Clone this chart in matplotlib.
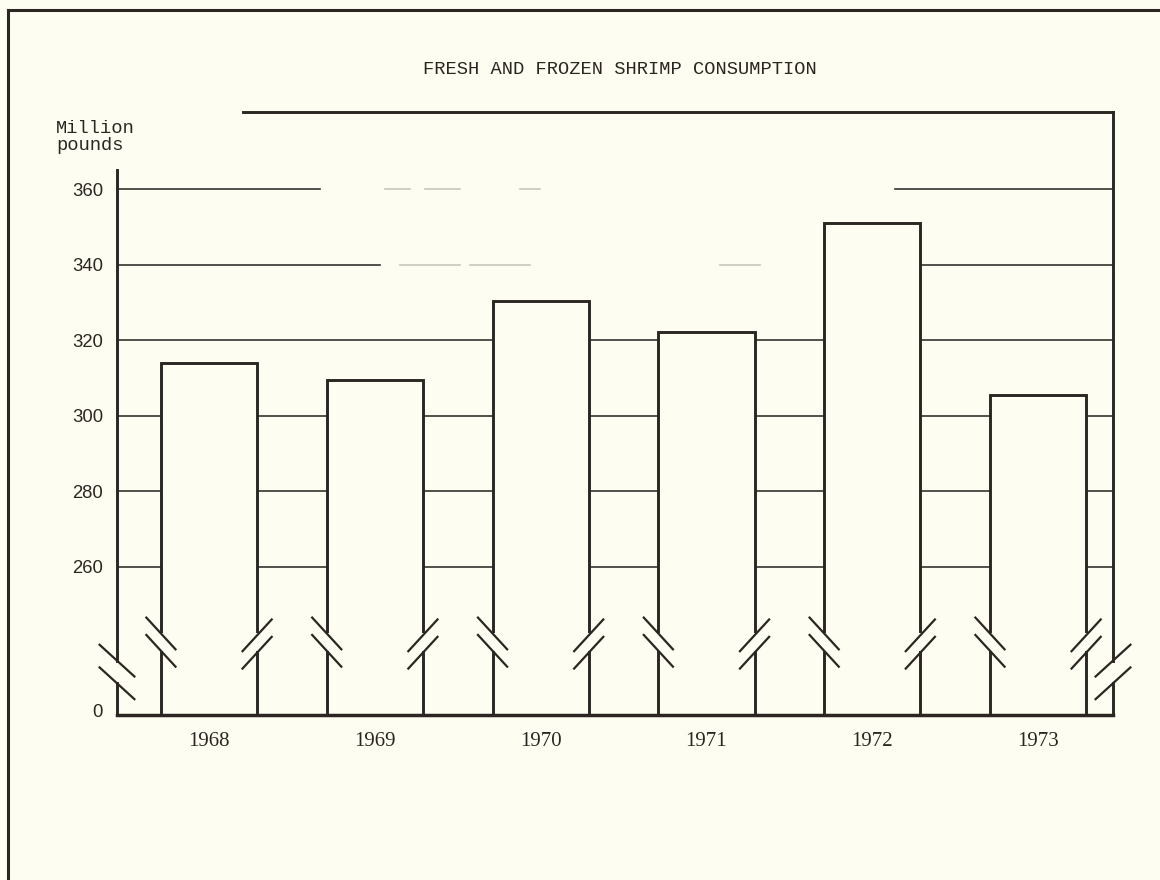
import matplotlib
matplotlib.use("Agg")
import matplotlib.pyplot as plt
from matplotlib.lines import Line2D
import numpy as np

# Fresh and frozen shrimp consumption, million pounds
years = ["1968", "1969", "1970", "1971", "1972", "1973"]
consumption = [314.0, 309.5, 330.5, 322.3, 351.1, 305.6]

grid_levels = [260, 280, 300, 320, 340, 360]
ytick_vals = [222.1, 260, 280, 300, 320, 340, 360]
ytick_labels = ["0", "260", "280", "300", "320", "340", "360"]

bg = "#fdfdf1"
ink = "#2b2622"
grid_col = "#36322e"
faint_col = "#c9c8bd"

y_lo, y_hi = 220.8, 380.5
x_lo, x_hi = -0.555, 5.452
bar_w = 0.58

fig = plt.figure(figsize=(11.6, 8.8), dpi=100, facecolor=bg)
ax = fig.add_axes([117 / 1160, 1 - 715 / 880, (1113 - 117) / 1160, (715 - 112) / 880])
ax.set_facecolor(bg)
ax.set_xlim(x_lo, x_hi)
ax.set_ylim(y_lo, y_hi)
for s in ax.spines.values():
    s.set_visible(False)

# gridlines (scan has dropped parts of the top two)
def frac(px):
    return (px - 117) / 996

partial = {
    360: [((117, 320), grid_col), ((385, 410), faint_col), ((425, 460), faint_col),
          ((520, 540), faint_col), ((895, 1113), grid_col)],
    340: [((117, 380), grid_col), ((400, 460), faint_col), ((470, 530), faint_col),
          ((720, 760), faint_col), ((920, 1113), grid_col)],
}
for v in grid_levels:
    if v in partial:
        for (a, b), c in partial[v]:
            ax.axhline(v, xmin=frac(a), xmax=frac(b), color=c, lw=1.2, zorder=1)
    else:
        ax.axhline(v, color=grid_col, lw=1.2, zorder=1)

# bars
x = np.arange(len(years))
vals = np.array(consumption)
ax.bar(x, vals - y_lo, bottom=y_lo, width=bar_w, facecolor=bg,
       edgecolor=ink, linewidth=2.1, zorder=3)

# break in the bars
brk_c, brk_off = 240.1, 2.3
ax.bar(x, 2 * brk_off, bottom=brk_c - brk_off, width=bar_w + 0.03,
       color=bg, linewidth=0, zorder=4)
dx, dy = 0.088, 4.2
for xi in x:
    xl, xr = xi - bar_w / 2, xi + bar_w / 2
    for s in (-1, 1):
        yc = brk_c + s * brk_off
        ax.plot([xl - dx, xl + dx], [yc + dy, yc - dy], color=ink, lw=1.6, zorder=5)
        ax.plot([xr - dx, xr + dx], [yc - dy - 0.5, yc + dy - 0.5], color=ink, lw=1.6, zorder=5)

# axes frame with breaks
ax_c, ax_off = 232.2, 3.0
adx, ady = 0.105, 4.2
ax.plot([x_lo, x_lo], [y_lo, ax_c - ax_off], color=ink, lw=2.1, clip_on=False, zorder=6)
ax.plot([x_lo, x_lo], [ax_c + ax_off, 365.2], color=ink, lw=2.1, clip_on=False, zorder=6)
ax.plot([x_hi, x_hi], [y_lo, ax_c - ax_off], color=ink, lw=2.1, clip_on=False, zorder=6)
ax.plot([x_hi, x_hi], [ax_c + ax_off, y_hi], color=ink, lw=2.1, clip_on=False, zorder=6)
ax.plot([0.205, x_hi], [y_hi, y_hi], color=ink, lw=2.1, clip_on=False, zorder=6)
ax.plot([x_lo, x_hi], [y_lo, y_lo], color=ink, lw=2.5, clip_on=False, zorder=6,
        solid_capstyle="projecting")
for s in (-1, 1):
    yc = ax_c + s * ax_off
    ax.plot([x_lo - adx, x_lo + adx], [yc + ady, yc - ady], color=ink, lw=1.6,
            clip_on=False, zorder=6)
    ax.plot([x_hi - adx, x_hi + adx], [yc - ady, yc + ady], color=ink, lw=1.6,
            clip_on=False, zorder=6)

# ticks
ax.set_yticks(ytick_vals)
ax.set_yticklabels(ytick_labels, family="Liberation Sans", fontsize=13.3, color=ink)
ax.set_xticks(x)
ax.set_xticklabels(years, family="Liberation Serif", fontsize=15, color=ink)
ax.tick_params(axis="y", length=0, pad=10)
ax.tick_params(axis="x", length=0, pad=12)

# text
fig.text(620 / 1160, 1 - 70 / 880, "FRESH AND FROZEN SHRIMP CONSUMPTION",
         family="Liberation Mono", fontsize=13.5, color=ink, ha="center", va="center")
fig.text(56 / 1160, 1 - 137 / 880, "Million\npounds", family="Liberation Mono",
         fontsize=13.5, color=ink, ha="left", va="center", linespacing=1.0)

# page border
fig.add_artist(Line2D([8 / 1160, 8 / 1160], [0, 1 - 10 / 880], color=ink, lw=2.2,
                      transform=fig.transFigure))
fig.add_artist(Line2D([8 / 1160, 1], [1 - 10 / 880, 1 - 10 / 880], color=ink, lw=2.2,
                      transform=fig.transFigure))

fig.savefig("out.png", dpi=100, facecolor=bg)
